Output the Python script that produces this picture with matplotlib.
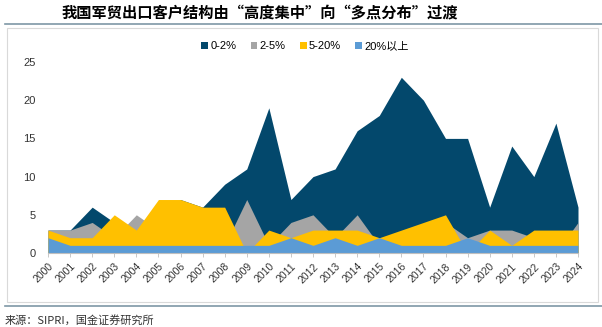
import matplotlib.pyplot as plt
from matplotlib.patches import Rectangle, Patch
from matplotlib.lines import Line2D

plt.rcParams['font.family'] = ['Liberation Sans', 'Noto Sans CJK SC', 'DejaVu Sans']

years = list(range(2000, 2025))
series_names = ['0-2%', '2-5%', '5-20%', '20%以上']

# number of customer countries per share band
share_0_2 = [3, 3, 6, 4, 3, 5, 7, 6, 9, 11, 19, 7, 10, 11, 16, 18, 23, 20, 15, 15, 6, 14, 10, 17, 6]
share_2_5 = [3, 3, 4, 2, 5, 3, 2, 2, 1, 7, 1, 4, 5, 2, 5, 1, 1, 2, 4, 2, 3, 3, 2, 0, 4]
share_5_20 = [3, 2, 2, 5, 3, 7, 7, 6, 6, 0, 3, 2, 3, 3, 3, 2, 3, 4, 5, 0, 3, 1, 3, 3, 3]
share_20_up = [2, 1, 1, 1, 1, 1, 1, 1, 1, 1, 1, 2, 1, 2, 1, 2, 1, 1, 1, 2, 1, 1, 1, 1, 1]

colors = ['#03486C', '#A5A5A5', '#FFC000', '#5B9BD5']

fig = plt.figure(figsize=(6.02, 3.27), dpi=100)

# outer frame and separator lines
fig.patches.append(Rectangle((7 / 602, 1 - 302 / 327), 591 / 602, 274 / 327,
                             transform=fig.transFigure, fill=False,
                             edgecolor='#D9D9D9', lw=0.8))
fig.add_artist(Line2D([5 / 602, 1], [1 - 24 / 327] * 2, transform=fig.transFigure,
                      color='#7E97A5', lw=1.2))
fig.add_artist(Line2D([5 / 602, 1], [1 - 306 / 327] * 2, transform=fig.transFigure,
                      color='#7E97A5', lw=1.2))

fig.text(62 / 602, 1 - 12 / 327, '我国军贸出口客户结构由“高度集中”向“多点分布”过渡',
         fontsize=11, fontweight='bold', va='center', ha='left',
         family=['Noto Sans CJK SC'], style='italic')
fig.text(5 / 602, 1 - 320 / 327, '来源：SIPRI，国金证券研究所',
         fontsize=8, va='center', ha='left', family=['Noto Sans CJK SC'], color='#333333')

ax = fig.add_axes([48 / 602, 1 - 253 / 327, 530 / 602, 191 / 327])

for vals, c, z in zip([share_0_2, share_2_5, share_5_20, share_20_up], colors, range(4)):
    ax.fill_between(years, 0, vals, color=c, lw=0, zorder=z + 1)

ax.set_xlim(2000, 2024)
ax.set_ylim(0, 25)
ax.set_yticks(range(0, 26, 5))
ax.set_xticks(years)
ax.set_xticklabels([str(y) for y in years], rotation=45, ha='right', va='top',
                   rotation_mode='anchor')
ax.tick_params(axis='y', length=0, pad=9, labelsize=8, labelcolor='#333333')
ax.tick_params(axis='x', length=3, width=0.6, color='#BFBFBF', pad=3,
               labelsize=7.5, labelcolor='#333333')
for s in ['top', 'right', 'left']:
    ax.spines[s].set_visible(False)
ax.spines['bottom'].set_color('#BFBFBF')
ax.spines['bottom'].set_linewidth(0.8)
ax.spines['bottom'].set_zorder(10)

handles = [Patch(facecolor=c, edgecolor='none') for c in colors]
fig.legend(handles, series_names, loc='center', bbox_to_anchor=(305 / 602, 1 - 46 / 327),
           ncol=4, frameon=False, fontsize=8, handlelength=0.6, handleheight=0.6,
           handletextpad=0.2, columnspacing=1.3)

fig.savefig('out.png', dpi=100)
